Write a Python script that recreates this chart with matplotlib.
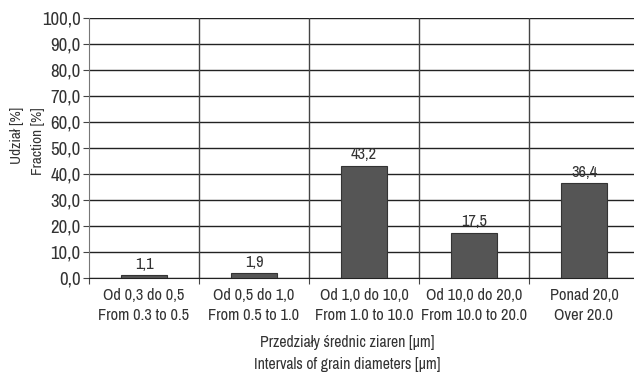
import matplotlib
matplotlib.use('Agg')
import matplotlib.pyplot as plt
from matplotlib import font_manager

categories = ['Od 0,3 do 0,5\nFrom 0.3 to 0.5',
              'Od 0,5 do 1,0\nFrom 0.5 to 1.0',
              'Od 1,0 do 10,0\nFrom 1.0 to 10.0',
              'Od 10,0 do 20,0\nFrom 10.0 to 20.0',
              'Ponad 20,0\nOver 20.0']
values = [1.1, 1.9, 43.2, 17.5, 36.4]
value_labels = ['1,1', '1,9', '43,2', '17,5', '36,4']
yticks = [0, 10, 20, 30, 40, 50, 60, 70, 80, 90, 100]
ytick_labels = [('%.1f' % v).replace('.', ',') for v in yticks]

# look for a narrow face, the original uses a condensed font
narrow = [f.name for f in font_manager.fontManager.ttflist
          if 'Narrow' in f.name or 'Condensed' in f.name]
if narrow:
    plt.rcParams['font.family'] = [narrow[0], 'DejaVu Sans']
else:
    plt.rcParams['font.family'] = ['DejaVu Sans']
    plt.rcParams['font.stretch'] = 'condensed'
txt = '#333333'

fig = plt.figure(figsize=(6.34, 3.74), dpi=100)
ax = fig.add_axes([89/634, 1 - 278/374, 1 - 89/634, 260/374])

x = range(len(values))
ax.bar(x, values, width=0.42, color='#555555', edgecolor='#333333', linewidth=0.8, zorder=3)
for xi, v, s in zip(x, values, value_labels):
    ax.text(xi, v + 1.3, s, ha='center', va='bottom', fontsize=11.8, color=txt, zorder=4)

ax.set_xlim(-0.5, -0.5 + (634 - 89) / 110)
ax.set_ylim(0, 100)
ax.set_yticks(yticks)
ax.set_yticklabels(ytick_labels, fontsize=13.5, color=txt)
ax.yaxis.grid(True, color='#222222', linewidth=1)
for b in range(1, 5):
    ax.axvline(b - 0.5, color='#444444', linewidth=1, zorder=1)

ax.set_xticks([i - 0.5 for i in range(1, 5)] + [-0.5])
ax.set_xticklabels([])
ax.set_xticks(list(x), minor=True)
ax.set_xticklabels(categories, minor=True, fontsize=11.8, color=txt, linespacing=1.4)
ax.tick_params(axis='x', which='minor', length=0, pad=7)
ax.tick_params(axis='x', which='major', length=4, color='#444444')
ax.tick_params(axis='y', length=4, color='#444444', pad=2)

for s in ['top', 'right']:
    ax.spines[s].set_visible(False)
ax.spines['left'].set_color('#777777')
ax.spines['bottom'].set_color('#222222')
ax.set_axisbelow(True)

fig.text(17/634, 1 - 107/374, 'Udział [%]', rotation=90, ha='center', va='top', fontsize=11, color=txt)
fig.text(38/634, 1 - 107/374, 'Fraction [%]', rotation=90, ha='center', va='top', fontsize=11, color=txt)
fig.text(347/634, 1 - 342/374, 'Przedziały średnic ziaren [µm]', ha='center', va='center', fontsize=11.3, color=txt)
fig.text(347/634, 1 - 365/374, 'Intervals of grain diameters [µm]', ha='center', va='center', fontsize=11.3, color=txt)

fig.savefig('out.png', dpi=100)
